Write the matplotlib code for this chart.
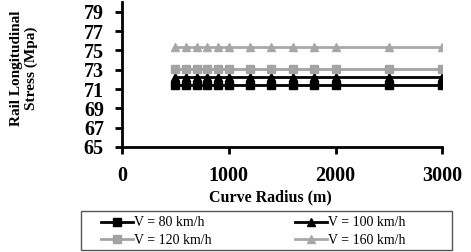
import matplotlib.pyplot as plt
from matplotlib.patches import Rectangle

# curve radius (m)
radius = [500, 600, 700, 800, 900, 1000, 1200, 1400, 1600, 1800, 2000, 2500, 3000]

# rail longitudinal stress (MPa) for each speed
stress_80 = [71.4] * len(radius)
stress_100 = [72.2] * len(radius)
stress_120 = [73.1] * len(radius)
stress_160 = [75.4] * len(radius)

x_ticks = [0, 1000, 2000, 3000]
y_ticks = [65, 67, 69, 71, 73, 75, 77, 79]

plt.rcParams['font.family'] = ['Liberation Serif', 'DejaVu Serif']

fig = plt.figure(figsize=(4.71, 2.52), dpi=100)
ax = fig.add_axes([0.259, 0.417, 0.680, 0.574])

series = [
    (stress_80, 'V = 80 km/h', 'black', 's'),
    (stress_100, 'V = 100 km/h', 'black', '^'),
    (stress_120, 'V = 120 km/h', '#a3a3a3', 's'),
    (stress_160, 'V = 160 km/h', '#a8a8a8', '^'),
]
handles = {}
for vals, lab, col, mk in series:
    h, = ax.plot(radius, vals, color=col, marker=mk, markersize=6, linewidth=2, label=lab)
    handles[lab] = h

ax.set_xlim(0, 3000)
ax.set_ylim(65, 80)
ax.set_xticks(x_ticks)
ax.set_yticks(y_ticks)
for sp in ['top', 'right']:
    ax.spines[sp].set_visible(False)
for sp in ['left', 'bottom']:
    ax.spines[sp].set_linewidth(2)
ax.tick_params(direction='out', width=2, length=5, labelsize=14.5)
ax.tick_params(axis='x', pad=9)
ax.tick_params(axis='y', pad=8)
for t in ax.get_xticklabels() + ax.get_yticklabels():
    t.set_fontweight('bold')

fig.text(0.573, 0.218, 'Curve Radius (m)', ha='center', va='center',
         fontsize=11.5, fontweight='bold')
fig.text(0.051, 0.730, 'Rail Longitudinal\nStress (Mpa)', rotation=90, ha='center', va='center',
         fontsize=11, fontweight='bold', linespacing=1.15)

# legend box drawn separately, entries fill row by row
fig.patches.append(Rectangle((81 / 471, 2 / 252), 371 / 471, 39.3 / 252,
                             transform=fig.transFigure, fill=False,
                             edgecolor='#555555', linewidth=1))
order = ['V = 80 km/h', 'V = 120 km/h', 'V = 100 km/h', 'V = 160 km/h']
leg = fig.legend([handles[k] for k in order], order, ncol=2, loc='center left',
                 bbox_to_anchor=(100.7 / 471, (252 - 231.5) / 252),
                 fontsize=10, frameon=False, borderpad=0, labelspacing=0.3,
                 handlelength=2.3, handletextpad=0.1, columnspacing=6.0,
                 borderaxespad=0)

fig.savefig('out.png', dpi=100)
